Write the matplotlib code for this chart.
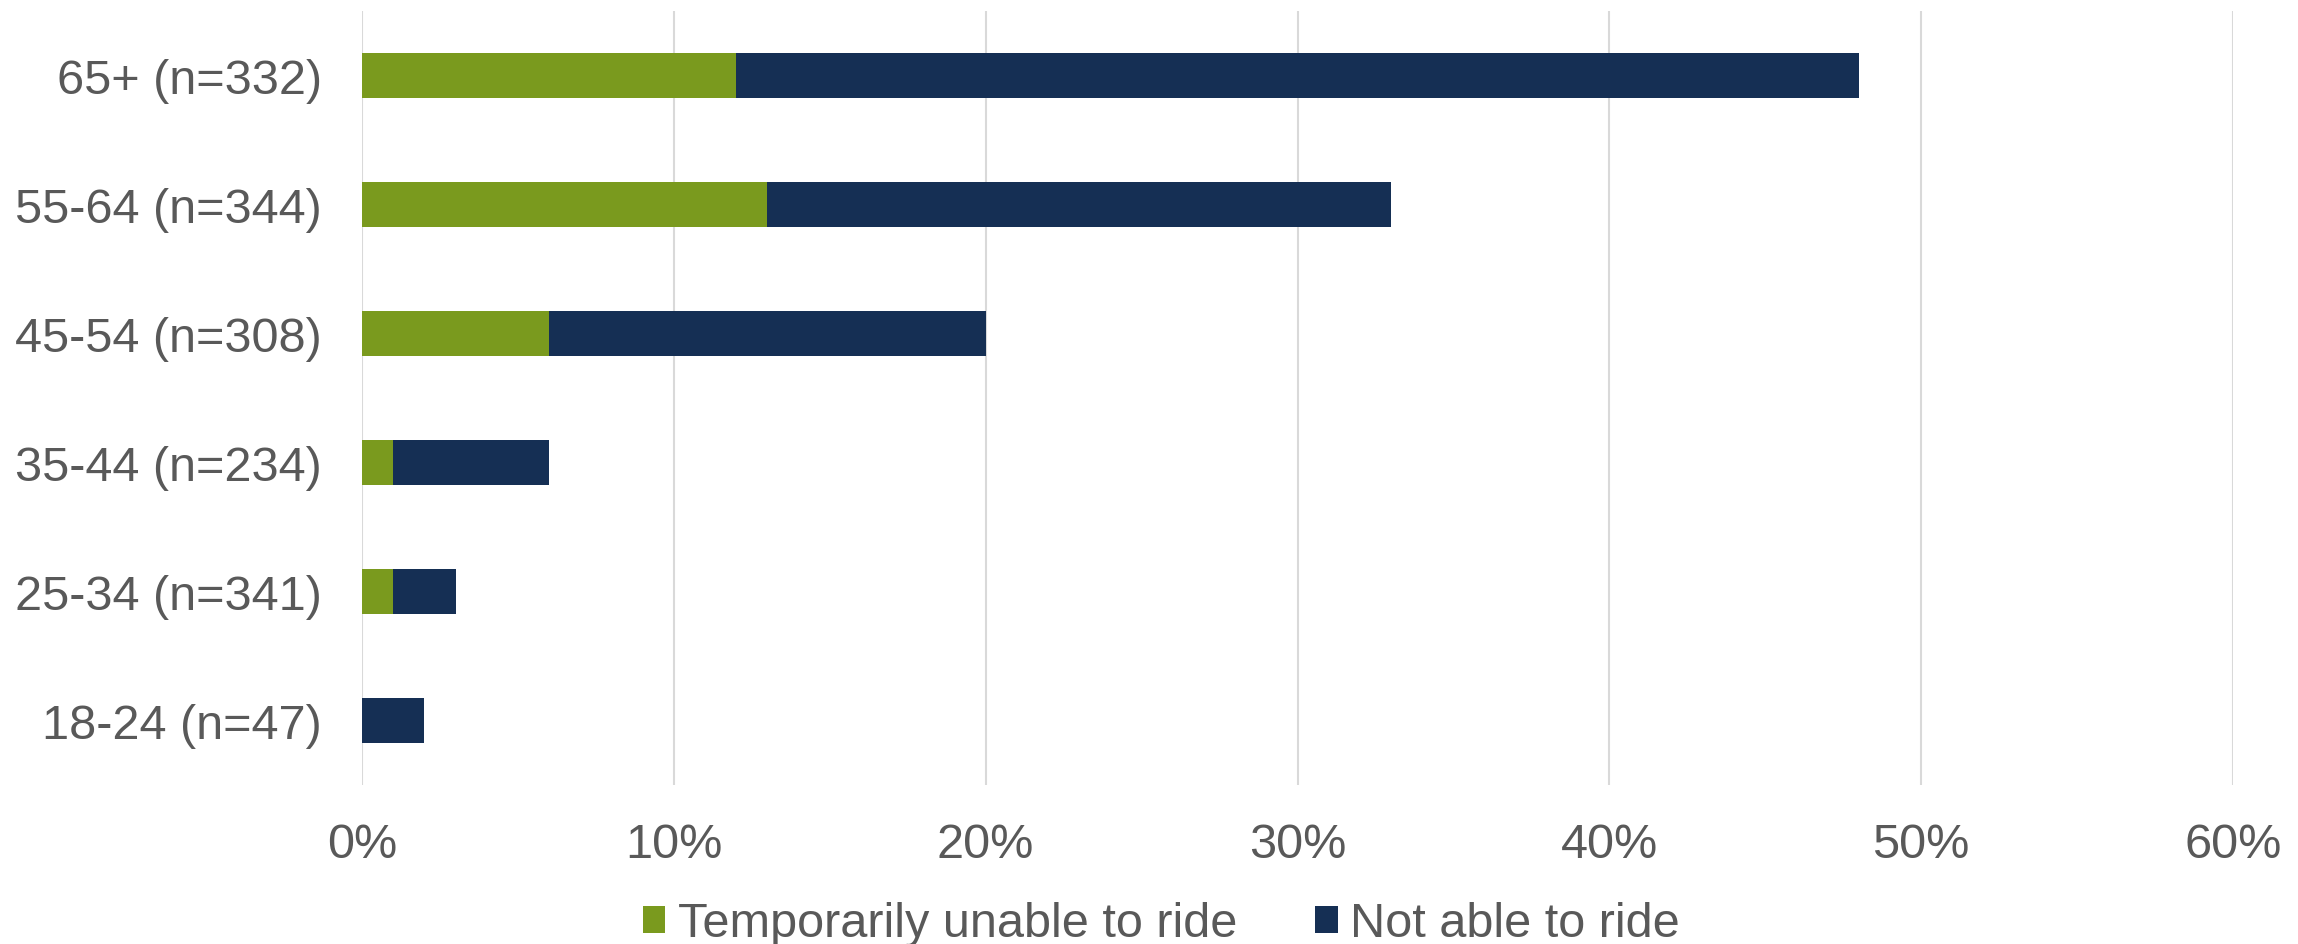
import matplotlib
matplotlib.use("Agg")
import matplotlib.pyplot as plt
from matplotlib.ticker import FuncFormatter, MultipleLocator

plt.rcParams['font.family'] = ['Liberation Sans', 'DejaVu Sans']

categories = ["18-24 (n=47)", "25-34 (n=341)", "35-44 (n=234)",
              "45-54 (n=308)", "55-64 (n=344)", "65+ (n=332)"]
temporarily_unable = [0, 1, 1, 6, 13, 12]
not_able_total = [2, 3, 6, 20, 33, 48]
not_able = [t - g for t, g in zip(not_able_total, temporarily_unable)]
series_names = ["Temporarily unable to ride", "Not able to ride"]

green = "#7A9A1E"
navy = "#152F54"
text_color = "#595959"

fig = plt.figure(figsize=(22.98, 9.45), dpi=100)
ax = fig.add_axes([362/2298, 1 - 786/945, (2233-362)/2298, 774/945])

y = list(range(len(categories)))
h = 0.355
ax.barh(y, temporarily_unable, height=h, color=green, label=series_names[0], zorder=3)
ax.barh(y, not_able, left=temporarily_unable, height=h, color=navy, label=series_names[1], zorder=3)

ax.set_xlim(0, 60)
ax.set_ylim(-0.5, len(categories) - 0.5)
ax.xaxis.set_major_locator(MultipleLocator(10))
ax.xaxis.set_major_formatter(FuncFormatter(lambda v, p: f"{int(v)}%"))
ax.set_yticks(y)
ax.set_yticklabels(categories)

ax.grid(axis='x', color='#D9D9D9', linewidth=1.5, zorder=0)
ax.set_axisbelow(True)
for s in ax.spines.values():
    s.set_visible(False)
ax.tick_params(axis='both', length=0, labelsize=35, labelcolor=text_color)
ax.tick_params(axis='x', pad=27)
ax.tick_params(axis='y', pad=29)

leg = fig.legend(loc='center', bbox_to_anchor=(0.5 + 12/2298, 1 - 925/945), ncol=2,
                 frameon=False, fontsize=35, labelcolor=text_color,
                 handlelength=0.47, handleheight=0.47, handletextpad=0.25,
                 columnspacing=1.6)

fig.savefig("out.png", dpi=100, facecolor="white")
